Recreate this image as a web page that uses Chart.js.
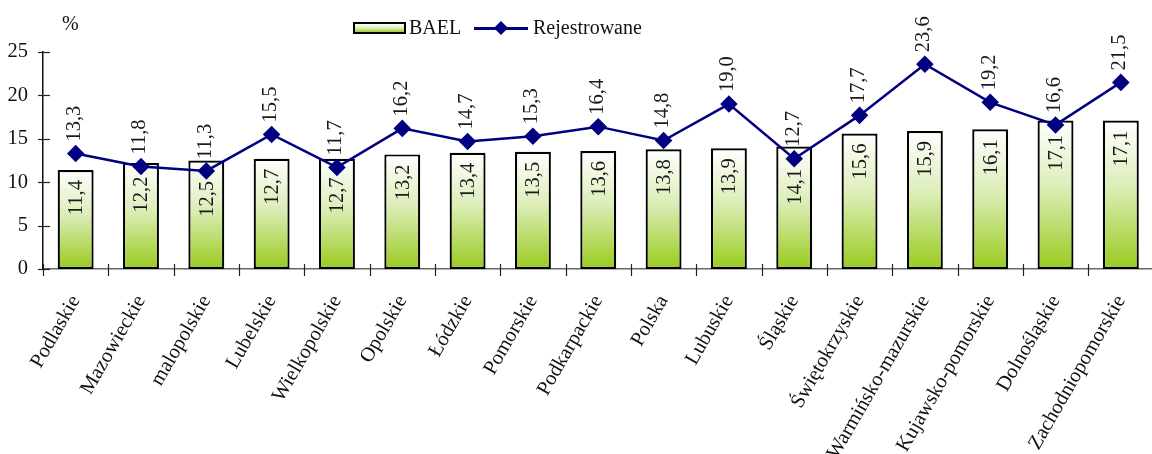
<!DOCTYPE html>
<html>
<head>
<meta charset="utf-8">
<script src="https://cdn.jsdelivr.net/npm/chart.js@4/dist/chart.umd.min.js"></script>
<style>
  html, body { margin: 0; padding: 0; background: #fff; overflow: hidden; width: 1152px; height: 454px; }
  #wrap { position: absolute; left: 0; top: 0; width: 1163px; height: 454px; }
  .t { position: absolute; font-family: "Liberation Serif", "DejaVu Serif", serif; font-size: 20px; color: #111; white-space: nowrap; }
  #lgBox { position: absolute; left: 353px; top: 22px; width: 49px; height: 8px; border: 2px solid #000;
           background: linear-gradient(to bottom, #ffffff 0%, #dcedb8 50%, #9fcd2c 100%); }
  #lgLine { position: absolute; left: 474px; top: 27px; width: 54px; height: 2.5px; background: #000080; }
  #lgDia { position: absolute; left: 496px; top: 23px; width: 10px; height: 10px; background: #000080; transform: rotate(45deg); }
</style>
</head>
<body>
<div id="wrap"><canvas id="c" width="1163" height="454"></canvas></div>
<div class="t" style="left:62px; top:12px;">%</div>
<div id="lgBox"></div>
<div class="t" style="left:409px; top:16px;">BAEL</div>
<div id="lgLine"></div>
<div id="lgDia"></div>
<div class="t" style="left:533px; top:16px;">Rejestrowane</div>
<script>
const categories = ["Podlaskie","Mazowieckie","malopolskie","Lubelskie","Wielkopolskie","Opolskie","Łódzkie","Pomorskie","Podkarpackie","Polska","Lubuskie","Śląskie","Świętokrzyskie","Warmińsko-mazurskie","Kujawsko-pomorskie","Dolnośląskie","Zachodniopomorskie"];
const baelValues = [11.4,12.2,12.5,12.7,12.7,13.2,13.4,13.5,13.6,13.8,13.9,14.1,15.6,15.9,16.1,17.1,17.1];
const rejestrowaneValues = [13.3,11.8,11.3,15.5,11.7,16.2,14.7,15.3,16.4,14.8,19.0,12.7,17.7,23.6,19.2,16.6,21.5];
const yTicks = [0,5,10,15,20,25];

const FONT = '"Liberation Serif", "DejaVu Serif", serif';
const fmt = v => v.toFixed(1).replace('.', ',');

function barGradient(ctx) {
  const chart = ctx.chart;
  const y = chart.scales && chart.scales.y;
  if (!y || ctx.type !== 'data') return '#c8e28a';
  const top = y.getPixelForValue(ctx.raw);
  const bot = y.getPixelForValue(0);
  if (!isFinite(top) || !isFinite(bot) || top === bot) return '#c8e28a';
  const g = chart.ctx.createLinearGradient(0, top, 0, bot);
  g.addColorStop(0, '#ffffff');
  g.addColorStop(0.45, '#dcedb8');
  g.addColorStop(1, '#99cb1e');
  return g;
}

const decor = {
  id: 'decor',
  afterDatasetsDraw(chart) {
    const ctx = chart.ctx;
    const x = chart.scales.x, y = chart.scales.y;
    const y0 = y.getPixelForValue(0);
    const xl = chart.chartArea.left;
    ctx.save();
    ctx.strokeStyle = '#222';
    ctx.lineWidth = 1.2;
    for (let i = 0; i <= categories.length; i++) {
      const px = Math.round(x.getPixelForValue(i - 0.5)) + 0.5;
      ctx.beginPath(); ctx.moveTo(px, y0 - 5); ctx.lineTo(px, y0 + 7); ctx.stroke();
    }
    yTicks.forEach(v => {
      const py = Math.round(y.getPixelForValue(v)) + 0.5;
      ctx.beginPath(); ctx.moveTo(xl - 5, py); ctx.lineTo(xl + 7, py); ctx.stroke();
    });
    ctx.fillStyle = '#1a1a1a';
    ctx.font = '20.5px ' + FONT;
    ctx.textBaseline = 'middle';
    const barMeta = chart.getDatasetMeta(1);
    const lineMeta = chart.getDatasetMeta(0);
    barMeta.data.forEach((el, i) => {
      const txt = fmt(baelValues[i]);
      const w = ctx.measureText(txt).width;
      let top = el.y + 10;
      const py = lineMeta.data[i].y;
      if (py > el.y - 8 && py < top + w + 2) top = py + 10;
      ctx.save();
      ctx.translate(el.x + 1, top);
      ctx.rotate(-Math.PI / 2);
      ctx.textAlign = 'right';
      ctx.fillText(txt, 0, 0);
      ctx.restore();
    });
    lineMeta.data.forEach((el, i) => {
      const txt = fmt(rejestrowaneValues[i]);
      ctx.save();
      ctx.translate(el.x - 1, el.y - 12);
      ctx.rotate(-Math.PI / 2);
      ctx.textAlign = 'left';
      ctx.fillText(txt, 0, 0);
      ctx.restore();
    });
    ctx.restore();
  }
};

new Chart(document.getElementById('c'), {
  data: {
    labels: categories,
    datasets: [
      {
        type: 'line', label: 'Rejestrowane', data: rejestrowaneValues, order: 0,
        borderColor: '#000080', backgroundColor: '#000080', borderWidth: 2.5,
        pointStyle: 'rectRot', pointRadius: 7, pointHoverRadius: 7, tension: 0
      },
      {
        type: 'bar', label: 'BAEL', data: baelValues, order: 1,
        backgroundColor: barGradient, borderColor: '#000', borderWidth: 2.2,
        borderSkipped: false, categoryPercentage: 1, barPercentage: 0.55
      }
    ]
  },
  options: {
    responsive: false, animation: false, events: [],
    layout: { padding: { top: 52, left: 0, right: 0, bottom: 0 } },
    plugins: { legend: { display: false }, tooltip: { enabled: false } },
    scales: {
      x: {
        offset: true,
        grid: { display: false, drawTicks: false },
        border: { display: true, color: '#666', width: 1.5 },
        ticks: { autoSkip: false, minRotation: 60, maxRotation: 60, padding: 22,
                 color: '#111', font: { family: FONT, size: 20.5 } },
        afterFit: s => { s.height = 185; s.paddingLeft = 0; s.paddingRight = 0; }
      },
      y: {
        min: 0, max: 25,
        afterBuildTicks: s => { s.ticks = yTicks.map(v => ({ value: v })); },
        grid: { display: false, drawTicks: false },
        border: { display: true, color: '#111', width: 1.5 },
        ticks: { padding: 15, color: '#111', font: { family: FONT, size: 20.5 } },
        afterFit: s => { s.width = 43; }
      }
    }
  },
  plugins: [decor]
});
</script>
</body>
</html>
